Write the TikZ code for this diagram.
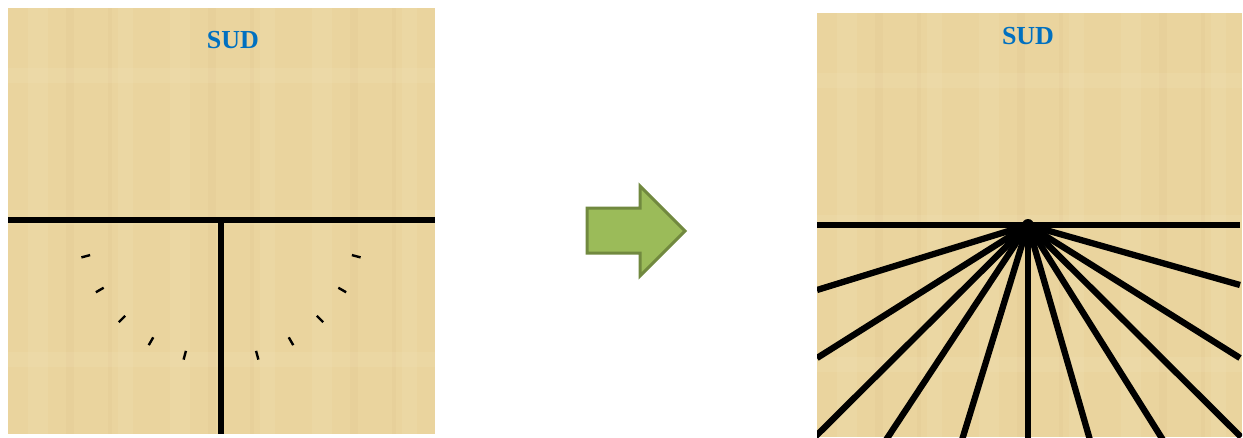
\documentclass[tikz,border=0pt]{standalone}
\usepackage{fontspec}
\setmainfont{Liberation Serif}
\usetikzlibrary{calc}
\definecolor{papyrus}{RGB}{234,212,158}
\definecolor{papyrusdark}{RGB}{214,190,135}
\definecolor{papyruslight}{RGB}{242,226,184}
\definecolor{sudblue}{RGB}{0,112,192}
\definecolor{arrowfill}{RGB}{155,187,89}
\definecolor{arrowline}{RGB}{113,137,63}
\tikzset{
  panel/.style={fill=papyrus, draw=none},
  band/.style={fill=papyrusdark, opacity=0.15, draw=none},
  lband/.style={fill=papyruslight, opacity=0.22, draw=none},
  title/.style={text=sudblue, font=\fontsize{26}{28}\selectfont\bfseries, inner sep=0pt},
  thick line/.style={draw=black, line width=5.5pt},
  tick/.style={draw=black, line width=2.4pt},
  ray/.style={draw=black, line width=6.3pt},
  bigarrow/.style={fill=arrowfill, draw=arrowline, line width=3pt, line join=miter},
}
\begin{document}
\begin{tikzpicture}[x=1pt,y=-1pt]
\useasboundingbox (0,0) rectangle (1243,437);
\fill[white] (0,0) rectangle (1243,437);

% ---------- left panel ----------
\begin{scope}
\clip (8,8) rectangle (435,434);
\fill[panel] (8,8) rectangle (435,434);
\foreach \x in {8,150,292} {
  \fill[band] (\x+58,8) rectangle (\x+66,434);
  \fill[band] (\x+100,8) rectangle (\x+104,434);
  \fill[lband] (\x+20,8) rectangle (\x+40,434);
  \fill[lband] (\x+110,8) rectangle (\x+125,434);
}
\foreach \y in {8,150,292} {
  \fill[lband] (8,\y+60) rectangle (435,\y+75);
}
\end{scope}
\node[title] (sudL) at (233,40) {SUD};
\coordinate (LW) at (8,220);
\coordinate (LE) at (435,220);
\coordinate (LC) at (221,220);
\coordinate (LB) at (221,434);
\draw[thick line] (LW) -- (LE);
\draw[thick line, line width=6pt] (LC) -- (LB);
\foreach \a in {165,150,135,120,105,15,30,45,60,75} {
  \draw[tick] ($(LC)+(\a:135.5)$) -- ($(LC)+(\a:144.5)$);
}

% ---------- arrow ----------
\draw[bigarrow] (587,208) -- (640,208) -- (640,186) -- (685,231) -- (640,276) -- (640,253) -- (587,253) -- cycle;
\coordinate (arrowtip) at (685,231);

% ---------- right panel ----------
\begin{scope}
\clip (817,13) rectangle (1242,437);
\fill[panel] (817,13) rectangle (1242,437);
\foreach \x in {817,959,1101} {
  \fill[band] (\x+58,13) rectangle (\x+66,437);
  \fill[band] (\x+100,13) rectangle (\x+104,437);
  \fill[lband] (\x+20,13) rectangle (\x+40,437);
  \fill[lband] (\x+110,13) rectangle (\x+125,437);
}
\foreach \y in {13,155,297} {
  \fill[lband] (817,\y+60) rectangle (1242,\y+75);
}
\coordinate (H) at (1028,225);
\foreach \ex/\ey in {817/290, 817/358, 815/437, 886/440, 962/440, 1028/440, 1090/440, 1163/440, 1241/437, 1240/358, 1240/285} {
  \draw[ray] (H) -- (\ex,\ey);
}
\end{scope}
\node[title] (sudR) at (1028,36) {SUD};
\coordinate (RW) at (817,225);
\coordinate (RE) at (1240,225);
\draw[thick line] (RW) -- (RE);
\fill[black] (H) circle (6);
\end{tikzpicture}
\end{document}
